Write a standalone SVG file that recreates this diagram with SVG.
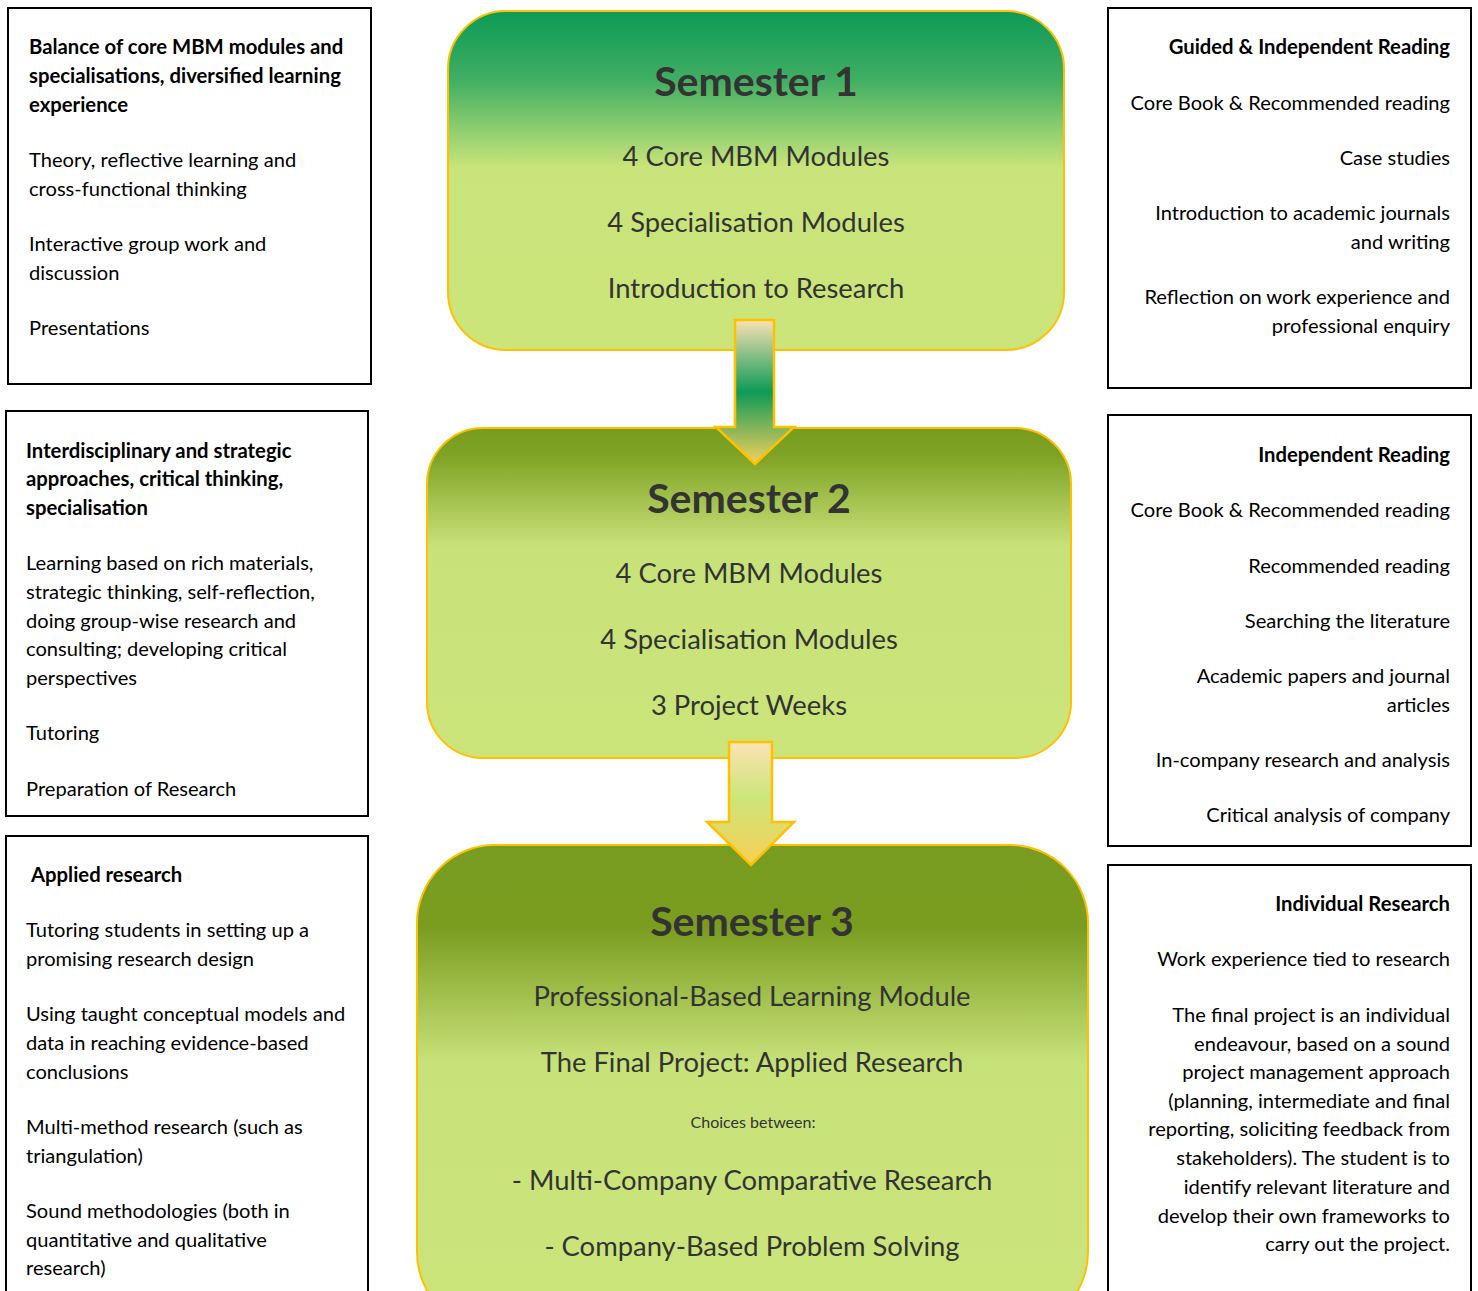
<svg xmlns="http://www.w3.org/2000/svg" width="1478" height="1291" viewBox="0 0 1478 1291">
<defs>
<linearGradient id="g1" x1="0" y1="0" x2="0" y2="1">
<stop offset="0" stop-color="#0c9a56"/>
<stop offset="0.2" stop-color="#3fae62"/>
<stop offset="0.46" stop-color="#c9e47a"/>
<stop offset="1" stop-color="#cbe57b"/>
</linearGradient>
<linearGradient id="g2" x1="0" y1="0" x2="0" y2="1">
<stop offset="0" stop-color="#789c1f"/>
<stop offset="0.08" stop-color="#7ea223"/>
<stop offset="0.36" stop-color="#c8e27a"/>
<stop offset="1" stop-color="#cbe57b"/>
</linearGradient>
<linearGradient id="g3" x1="0" y1="0" x2="0" y2="1">
<stop offset="0" stop-color="#789c1f"/>
<stop offset="0.17" stop-color="#7a9d20"/>
<stop offset="0.45" stop-color="#c8e27a"/>
<stop offset="1" stop-color="#cbe57b"/>
</linearGradient>
<linearGradient id="a1" gradientUnits="userSpaceOnUse" x1="0" y1="320" x2="0" y2="464">
<stop offset="0" stop-color="#fae2b2"/>
<stop offset="0.5" stop-color="#0e9a57"/>
<stop offset="1" stop-color="#f6d05c"/>
</linearGradient>
<linearGradient id="a2" gradientUnits="userSpaceOnUse" x1="0" y1="742" x2="0" y2="865">
<stop offset="0" stop-color="#fce3b2"/>
<stop offset="0.45" stop-color="#cce57a"/>
<stop offset="1" stop-color="#f7cf55"/>
</linearGradient>
</defs>
<style>
.side{fill:#fff;stroke:#000;stroke-width:2}
.sem{stroke:#ffc000;stroke-width:2}
.arrow{stroke:#ffc000;stroke-width:2.5;stroke-linejoin:miter}
.t{font-family:Lato,"Noto Sans",sans-serif;font-size:20.1px;fill:#000}
.b{font-weight:bold;font-size:20.3px}
.r{text-anchor:end}
.st{font-family:Lato,"Noto Sans",sans-serif;fill:#333;text-anchor:middle}
.h{font-size:41px;font-weight:bold}
.m{font-size:27.4px}
.s{font-size:16px}
</style>
<rect width="1478" height="1291" fill="#fff"/>

<g id="left1">
<rect class="side" x="8" y="8" width="363" height="376"/>
<text class="t b" x="29" y="54">Balance of core MBM modules and</text>
<text class="t b" x="29" y="83">specialisations, diversified learning</text>
<text class="t b" x="29" y="112">experience</text>
<text class="t" x="29" y="167">Theory, reflective learning and</text>
<text class="t" x="29" y="196">cross-functional thinking</text>
<text class="t" x="29" y="251">Interactive group work and</text>
<text class="t" x="29" y="280">discussion</text>
<text class="t" x="29" y="335">Presentations</text>
</g>

<g id="left2">
<rect class="side" x="6" y="411" width="362" height="405"/>
<text class="t b" x="26" y="458">Interdisciplinary and strategic</text>
<text class="t b" x="26" y="486">approaches, critical thinking,</text>
<text class="t b" x="26" y="515">specialisation</text>
<text class="t" x="26" y="570">Learning based on rich materials,</text>
<text class="t" x="26" y="599">strategic thinking, self-reflection,</text>
<text class="t" x="26" y="628">doing group-wise research and</text>
<text class="t" x="26" y="656">consulting; developing critical</text>
<text class="t" x="26" y="685">perspectives</text>
<text class="t" x="26" y="740">Tutoring</text>
<text class="t" x="26" y="796">Preparation of Research</text>
</g>

<g id="left3">
<rect class="side" x="6" y="836" width="362" height="480"/>
<text class="t b" x="31" y="882">Applied research</text>
<text class="t" x="26" y="937">Tutoring students in setting up a</text>
<text class="t" x="26" y="966">promising research design</text>
<text class="t" x="26" y="1021">Using taught conceptual models and</text>
<text class="t" x="26" y="1050">data in reaching evidence-based</text>
<text class="t" x="26" y="1079">conclusions</text>
<text class="t" x="26" y="1134">Multi-method research (such as</text>
<text class="t" x="26" y="1163">triangulation)</text>
<text class="t" x="26" y="1218">Sound methodologies (both in</text>
<text class="t" x="26" y="1247">quantitative and qualitative</text>
<text class="t" x="26" y="1275">research)</text>
</g>

<g id="right1">
<rect class="side" x="1108" y="8" width="363" height="380"/>
<text class="t b r" x="1450" y="54">Guided &amp; Independent Reading</text>
<text class="t r" x="1450" y="110">Core Book &amp; Recommended reading</text>
<text class="t r" x="1450" y="165">Case studies</text>
<text class="t r" x="1450" y="220">Introduction to academic journals</text>
<text class="t r" x="1450" y="249">and writing</text>
<text class="t r" x="1450" y="304">Reflection on work experience and</text>
<text class="t r" x="1450" y="333">professional enquiry</text>
</g>

<g id="right2">
<rect class="side" x="1108" y="415" width="363" height="431"/>
<text class="t b r" x="1450" y="462">Independent Reading</text>
<text class="t r" x="1450" y="517">Core Book &amp; Recommended reading</text>
<text class="t r" x="1450" y="573">Recommended reading</text>
<text class="t r" x="1450" y="628">Searching the literature</text>
<text class="t r" x="1450" y="683">Academic papers and journal</text>
<text class="t r" x="1450" y="712">articles</text>
<text class="t r" x="1450" y="767">In-company research and analysis</text>
<text class="t r" x="1450" y="822">Critical analysis of company</text>
</g>

<g id="right3">
<rect class="side" x="1108" y="865" width="363" height="450"/>
<text class="t b r" x="1450" y="911">Individual Research</text>
<text class="t r" x="1450" y="966">Work experience tied to research</text>
<text class="t r" x="1450" y="1022">The final project is an individual</text>
<text class="t r" x="1450" y="1051">endeavour, based on a sound</text>
<text class="t r" x="1450" y="1079">project management approach</text>
<text class="t r" x="1450" y="1108">(planning, intermediate and final</text>
<text class="t r" x="1450" y="1136">reporting, soliciting feedback from</text>
<text class="t r" x="1450" y="1165">stakeholders). The student is to</text>
<text class="t r" x="1450" y="1194">identify relevant literature and</text>
<text class="t r" x="1450" y="1223">develop their own frameworks to</text>
<text class="t r" x="1450" y="1251">carry out the project.</text>
</g>

<g id="semester1">
<rect class="sem" x="448" y="11" width="616" height="339" rx="58" fill="url(#g1)"/>
<text class="st h" x="756" y="96">Semester 1</text>
<text class="st m" x="756" y="166">4 Core MBM Modules</text>
<text class="st m" x="756" y="232">4 Specialisation Modules</text>
<text class="st m" x="756" y="298">Introduction to Research</text>
</g>

<g id="semester2">
<rect class="sem" x="427" y="428" width="644" height="330" rx="56" fill="url(#g2)"/>
<text class="st h" x="749" y="513">Semester 2</text>
<text class="st m" x="749" y="583">4 Core MBM Modules</text>
<text class="st m" x="749" y="649">4 Specialisation Modules</text>
<text class="st m" x="749" y="715">3 Project Weeks</text>
</g>

<g id="semester3">
<rect class="sem" x="417" y="845" width="671" height="485" rx="78" fill="url(#g3)"/>
<text class="st h" x="752" y="936">Semester 3</text>
<text class="st m" x="752" y="1006">Professional-Based Learning Module</text>
<text class="st m" x="752" y="1072">The Final Project: Applied Research</text>
<text class="st s" x="753" y="1128">Choices between:</text>
<text class="st m" x="752" y="1190">- Multi-Company Comparative Research</text>
<text class="st m" x="752" y="1256">- Company-Based Problem Solving</text>
</g>

<g id="connectors">
<polygon class="arrow" fill="url(#a1)" points="735,320 774,320 774,427 794,427 755,464 716,427 735,427"/>
<polygon class="arrow" fill="url(#a2)" points="729,742 772,742 772,822 794,822 751,865 707,822 729,822"/>
</g>
</svg>
